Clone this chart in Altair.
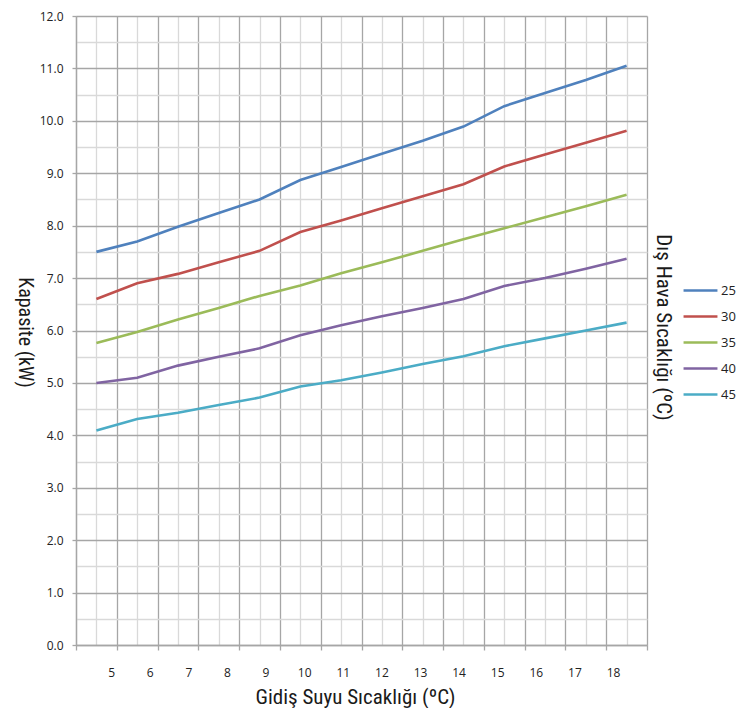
import altair as alt
import pandas as pd

# ---- data ----
gidis_suyu = [5, 6, 7, 8, 9, 10, 11, 12, 13, 14, 15, 16, 17, 18]
seri_25 = [7.50, 7.70, 7.98, 8.24, 8.50, 8.87, 9.12, 9.37, 9.62, 9.89, 10.28, 10.53, 10.78, 11.05]
seri_30 = [6.60, 6.90, 7.08, 7.30, 7.52, 7.88, 8.10, 8.33, 8.56, 8.79, 9.13, 9.36, 9.58, 9.81]
seri_35 = [5.76, 5.97, 6.21, 6.43, 6.66, 6.86, 7.09, 7.30, 7.52, 7.74, 7.95, 8.16, 8.37, 8.59]
seri_40 = [5.00, 5.10, 5.33, 5.50, 5.66, 5.91, 6.10, 6.27, 6.43, 6.60, 6.85, 7.00, 7.18, 7.37]
seri_45 = [4.09, 4.31, 4.43, 4.58, 4.72, 4.93, 5.05, 5.20, 5.36, 5.51, 5.70, 5.85, 6.00, 6.15]
seri_adlari = ["25", "30", "35", "40", "45"]
renkler = ["#4F81BD", "#C0504D", "#9BBB59", "#8064A2", "#4BACC6"]

rows = []
for name, vals in zip(seri_adlari, [seri_25, seri_30, seri_35, seri_40, seri_45]):
    for xv, yv in zip(gidis_suyu, vals):
        rows.append({"x": xv, "kapasite": yv, "seri": name})
df = pd.DataFrame(rows)

x_ticks = [4.5 + 0.5 * i for i in range(29)]
y_ticks = [0.5 * i for i in range(25)]

MAJOR = "#a6a6a6"
MINOR = "#d9d9d9"
NARROW = "Liberation Sans Narrow, Roboto Condensed, Arial Narrow, Roboto, sans-serif"
LABEL_FONT = "Open Sans, Noto Sans, sans-serif"

y_scale = alt.Scale(domain=[0, 12], nice=False, zero=True)

lines = alt.Chart(df).mark_line(strokeWidth=2.6).encode(
    x=alt.X(
        "x:Q",
        scale=alt.Scale(domain=[4.5, 18.5], nice=False, zero=False),
        axis=alt.Axis(
            orient="bottom",
            values=x_ticks,
            labels=False,
            title=None,
            grid=True,
            gridColor={"condition": {"test": "datum.value % 1 === 0", "value": MINOR}, "value": MAJOR},
            gridWidth=1.3,
            tickOpacity={"condition": {"test": "datum.value % 1 === 0", "value": 0}, "value": 1},
            tickColor=MAJOR,
            tickWidth=1.3,
            tickSize=5,
            domainColor=MAJOR,
            domainWidth=1.3,
        ),
    ),
    y=alt.Y(
        "kapasite:Q",
        scale=y_scale,
        axis=alt.Axis(
            orient="left",
            values=y_ticks,
            labelExpr="datum.value % 1 === 0 ? format(datum.value, '.1f') : ''",
            labelOverlap=False,
            labelFlush=False,
            labelFont=LABEL_FONT,
            labelFontSize=12,
            labelColor="#222222",
            labelPadding=9,
            grid=True,
            gridColor={"condition": {"test": "datum.value % 1 === 0", "value": MAJOR}, "value": MINOR},
            gridWidth=1.3,
            tickOpacity={"condition": {"test": "datum.value % 1 === 0", "value": 1}, "value": 0},
            tickColor=MAJOR,
            tickWidth=1.3,
            tickSize=4,
            domainColor=MAJOR,
            domainWidth=1.3,
            title="Kapasite (kW)",
            titleFont=NARROW,
            titleFontSize=20,
            titleFontWeight="normal",
            titleColor="#1a1a1a",
            titleAngle=90,
            titleAlign="center",
            titleBaseline="middle",
            titleX=-52,
            titleY=316,
        ),
    ),
    color=alt.Color(
        "seri:N",
        scale=alt.Scale(domain=seri_adlari, range=renkler),
        legend=alt.Legend(
            title=None,
            orient="none",
            legendX=606,
            legendY=256,
            symbolType="stroke",
            symbolStrokeWidth=2.6,
            symbolSize=1150,
            labelFont=LABEL_FONT,
            labelFontSize=13,
            labelColor="#222222",
            labelOffset=2,
            rowPadding=0,
        ),
    ),
)

labels_layer = alt.Chart(df).mark_point(opacity=0).encode(
    x=alt.X(
        "x:Q",
        scale=alt.Scale(domain=[4.09, 18.88], nice=False, zero=False),
        axis=alt.Axis(
            orient="bottom",
            values=gidis_suyu,
            format="d",
            ticks=False,
            tickSize=0,
            domain=False,
            grid=False,
            labelFlush=False,
            labelOverlap=False,
            labelFont=LABEL_FONT,
            labelFontSize=12,
            labelColor="#222222",
            labelPadding=22,
            title="Gidiş Suyu Sıcaklığı (ºC)",
            titleFont=NARROW,
            titleFontSize=21,
            titleFontWeight="normal",
            titleColor="#1a1a1a",
            titleBaseline="middle",
            titleX=279,
            titleY=52,
        ),
    ),
    y=alt.Y(
        "kapasite:Q",
        scale=y_scale,
        axis=alt.Axis(
            orient="right",
            labels=False,
            ticks=False,
            domain=False,
            grid=False,
            title="Dış Hava Sıcaklığı (ºC)",
            titleFont=NARROW,
            titleFontSize=21,
            titleFontWeight="normal",
            titleColor="#1a1a1a",
            titleAngle=90,
            titleAlign="center",
            titleBaseline="middle",
            titleX=15,
            titleY=311,
        ),
    ),
)

chart = (
    alt.layer(lines, labels_layer)
    .resolve_scale(x="independent")
    .resolve_axis(x="independent", y="independent")
    .properties(
        width=571,
        height=629,
        autosize=alt.AutoSizeParams(type="none"),
        padding={"left": 68, "top": 8, "right": 90, "bottom": 63},
    )
    .configure_view(stroke=None)
)

chart.save("out.html", embed_options={"renderer": "svg", "actions": False})
